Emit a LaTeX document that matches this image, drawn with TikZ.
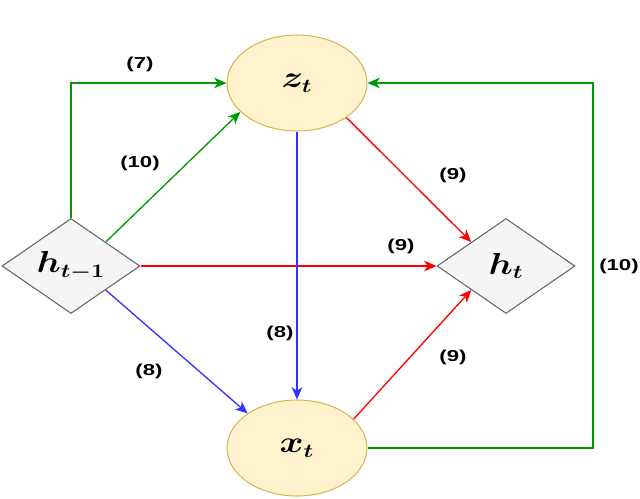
\documentclass[tikz,border=0pt]{standalone}
\usepackage{amsmath,bm,graphicx}
\usepackage{fontspec}
\setsansfont{Liberation Sans}
\usetikzlibrary{shapes.geometric,arrows.meta}
\definecolor{ellfill}{HTML}{FFF2CC}
\definecolor{elldraw}{HTML}{D6B656}
\definecolor{dfill}{HTML}{F5F5F5}
\definecolor{ddraw}{HTML}{666666}
\definecolor{cgreen}{HTML}{009900}
\definecolor{cred}{HTML}{FF0000}
\definecolor{cblue}{HTML}{3333FF}
\newcommand\mylbl[1]{\scalebox{1.4}[1]{\sffamily\bfseries\fontsize{9}{10}\selectfont #1}}
\newcommand\mymath[1]{\scalebox{1.2}[1]{\fontsize{16}{19}\selectfont$\bm{#1}$}}
\begin{document}
\begin{tikzpicture}[x=0.02cm,y=-0.02cm,
  ell/.style={ellipse,draw=elldraw,fill=ellfill,line width=0.6pt,minimum width=2.8cm,minimum height=1.92cm,inner sep=0pt},
  dia/.style={diamond,draw=ddraw,fill=dfill,line width=0.6pt,aspect=1.45,minimum width=2.76cm,minimum height=1.9cm,inner sep=0pt},
  conn/.style={line width=0.75pt,-{Stealth[length=7pt,width=6pt,inset=2pt]}},
  lab/.style={inner sep=0pt}]
\useasboundingbox (0,0) rectangle (640,498);
\node[ell] (z) at (297,83) {\mymath{z_t}};
\node[ell] (x) at (297,448) {\mymath{x_t}};
\node[dia] (hp) at (71,266) {\mymath{h_{t-1}}};
\node[dia] (ht) at (506,266) {\mymath{h_t}};
\coordinate (c) at (593,448);
% connectors
\draw[conn,cgreen] (hp.north) |- (z.west);
\draw[conn,cgreen] (hp.north east) -- (z.207);
\draw[conn,cred] (z.325) -- (ht.north west);
\draw[conn,cred] (hp.east) -- (ht.west);
\draw[conn,cblue] (z.south) -- (x.north);
\draw[conn,cblue] (hp.south east) -- (x.145);
\draw[conn,cred] (x.27) -- (ht.south west);
\draw[conn,cgreen] (x.east) -- (c) |- (z.east);
% labels
\node[lab] (l7) at (140,64) {\mylbl{(7)}};
\node[lab] (l10a) at (140,163) {\mylbl{(10)}};
\node[lab] (l9a) at (453,175) {\mylbl{(9)}};
\node[lab] (l9b) at (401,246) {\mylbl{(9)}};
\node[lab] (l8a) at (280,333) {\mylbl{(8)}};
\node[lab] (l8b) at (149,371) {\mylbl{(8)}};
\node[lab] (l9c) at (453,357) {\mylbl{(9)}};
\node[lab] (l10b) at (619,266) {\mylbl{(10)}};
\end{tikzpicture}
\end{document}
